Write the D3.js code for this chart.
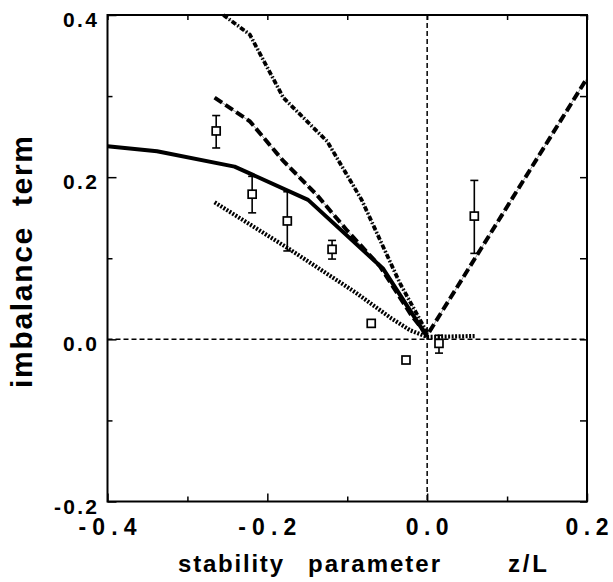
<!DOCTYPE html>
<html lang="en">
<head>
<meta charset="utf-8">
<title>imbalance term</title>
<script src="https://d3js.org/d3.v7.min.js"></script>
<style>
  body { margin: 0; background: #fff; }
  svg { display: block; }
  text { font-family: "Liberation Sans", Arial, Helvetica, sans-serif; font-weight: bold; fill: #000; }
</style>
</head>
<body>
<div id="chart"></div>
<script>
// model curves (z/L, imbalance)
var solidLine = [[-0.4, 0.238], [-0.338, 0.232], [-0.241, 0.213], [-0.149, 0.172], [-0.055, 0.087], [0, 0.003]];
var dashedLine = [[-0.266, 0.298], [-0.222, 0.269], [-0.18, 0.22], [-0.138, 0.178], [-0.1, 0.134], [-0.059, 0.09], [-0.02, 0.03], [0, 0.005], [0.2, 0.322]];
var dashDotLine = [[-0.255, 0.4], [-0.222, 0.376], [-0.18, 0.298], [-0.125, 0.244], [-0.082, 0.172], [-0.034, 0.069], [0, 0.008]];
var dottedLine = [[-0.266, 0.169], [-0.172, 0.111], [-0.09, 0.058], [-0.045, 0.026], [-0.021, 0.011], [0, 0.003], [0.06, 0.004]];

// measured points: x, y, lower, upper
var obsX = [-0.264, -0.219, -0.175, -0.119, -0.070, -0.0265, 0.0148, 0.059];
var obsY = [0.257, 0.179, 0.146, 0.111, 0.0197, -0.0255, -0.005, 0.152];
var obsLo = [0.236, 0.156, 0.109, 0.099, 0.0167, -0.0255, -0.017, 0.106];
var obsHi = [0.276, 0.201, 0.182, 0.122, 0.0227, -0.0255, 0.005, 0.196];

var xMajor = [-0.4, -0.2, 0, 0.2];
var xMinor = [-0.3, -0.1, 0.1];
var xTickLabels = ["-0.4", "-0.2", "0.0", "0.2"];
var yMajor = [0.4, 0.2, 0, -0.2];
var yMinor = [0.3, 0.1, -0.1];
var yTickLabels = ["0.4", "0.2", "0.0", "-0.2"];

var w = 613, h = 582;
var padL = 107.5, padR = 587, padT = 15, padB = 501.5;

var x = d3.scaleLinear().domain([-0.4, 0.2]).range([padL, padR]);
var y = d3.scaleLinear().domain([-0.2, 0.4]).range([padB, padT]);

var svg = d3.select("#chart").append("svg")
  .attr("width", w)
  .attr("height", h);

// inward ticks
function ticks(axis, tr) {
  var g = svg.append("g").attr("transform", tr).call(axis);
  g.select(".domain").remove();
  g.selectAll(".tick line").attr("stroke", "#000").attr("stroke-width", 1.5);
}
ticks(d3.axisBottom(x).tickValues(xMajor).tickSize(-8).tickFormat(""), "translate(0," + padB + ")");
ticks(d3.axisBottom(x).tickValues(xMinor).tickSize(-5).tickFormat(""), "translate(0," + padB + ")");
ticks(d3.axisTop(x).tickValues(xMajor.concat(xMinor)).tickSize(-5).tickFormat(""), "translate(0," + padT + ")");
ticks(d3.axisLeft(y).tickValues(yMajor).tickSize(-9).tickFormat(""), "translate(" + padL + ",0)");
ticks(d3.axisLeft(y).tickValues(yMinor).tickSize(-5).tickFormat(""), "translate(" + padL + ",0)");
ticks(d3.axisRight(y).tickValues(yMajor.concat(yMinor)).tickSize(-7).tickFormat(""), "translate(" + padR + ",0)");

// zero reference lines
svg.append("line")
  .attr("x1", x(-0.4)).attr("x2", x(0.2)).attr("y1", y(0)).attr("y2", y(0))
  .attr("stroke", "#000").attr("stroke-width", 1.5).attr("stroke-dasharray", "5,3");
svg.append("line")
  .attr("x1", x(0)).attr("x2", x(0)).attr("y1", y(0.4)).attr("y2", y(-0.2))
  .attr("stroke", "#000").attr("stroke-width", 1.5).attr("stroke-dasharray", "5,3");

var line = d3.line().x(function(d) { return x(d[0]); }).y(function(d) { return y(d[1]); });

// thin hairlines under the broken curves
[dashedLine, dashDotLine].forEach(function(d) {
  svg.append("path").attr("d", line(d)).attr("fill", "none")
    .attr("stroke", "#777").attr("stroke-width", 0.7);
});

svg.append("path").attr("d", line(dottedLine)).attr("fill", "none")
  .attr("stroke", "#000").attr("stroke-width", 4.2).attr("stroke-dasharray", "2,1.5");
svg.append("path").attr("d", line(dashDotLine)).attr("fill", "none")
  .attr("stroke", "#000").attr("stroke-width", 3.8).attr("stroke-dasharray", "5,2,1.5,2");
svg.append("path").attr("d", line(dashedLine)).attr("fill", "none")
  .attr("stroke", "#000").attr("stroke-width", 4).attr("stroke-dasharray", "9,4");
svg.append("path").attr("d", line(solidLine)).attr("fill", "none")
  .attr("stroke", "#000").attr("stroke-width", 4).attr("stroke-linejoin", "round");

// error bars + squares
var pts = d3.range(obsX.length);
var withErr = pts.filter(function(i) { return obsHi[i] > obsLo[i]; });
var eb = svg.append("g").attr("stroke", "#000").attr("stroke-width", 1.6);
eb.selectAll(".stem").data(withErr).enter().append("line")
  .attr("x1", function(i) { return x(obsX[i]); }).attr("x2", function(i) { return x(obsX[i]); })
  .attr("y1", function(i) { return y(obsLo[i]); }).attr("y2", function(i) { return y(obsHi[i]); });
eb.selectAll(".capLo").data(withErr).enter().append("line")
  .attr("x1", function(i) { return x(obsX[i]) - 4; }).attr("x2", function(i) { return x(obsX[i]) + 4; })
  .attr("y1", function(i) { return y(obsLo[i]); }).attr("y2", function(i) { return y(obsLo[i]); });
eb.selectAll(".capHi").data(withErr).enter().append("line")
  .attr("x1", function(i) { return x(obsX[i]) - 4; }).attr("x2", function(i) { return x(obsX[i]) + 4; })
  .attr("y1", function(i) { return y(obsHi[i]); }).attr("y2", function(i) { return y(obsHi[i]); });

svg.selectAll(".pt").data(pts).enter().append("rect")
  .attr("x", function(i) { return x(obsX[i]) - 4; })
  .attr("y", function(i) { return y(obsY[i]) - 4; })
  .attr("width", 8).attr("height", 8)
  .attr("fill", "#fff").attr("stroke", "#000").attr("stroke-width", 1.7);

// frame
svg.append("rect")
  .attr("x", padL).attr("y", padT).attr("width", padR - padL).attr("height", padB - padT)
  .attr("fill", "none").attr("stroke", "#000").attr("stroke-width", 2);

// tick labels
svg.selectAll(".xl").data(xMajor).enter().append("text")
  .attr("x", function(d) { return x(d); })
  .attr("y", 535)
  .attr("text-anchor", "middle")
  .attr("font-size", 23)
  .attr("textLength", function(d, i) { return xTickLabels[i].length > 3 ? 58 : 43; })
  .attr("lengthAdjust", "spacing")
  .text(function(d, i) { return xTickLabels[i]; });

svg.selectAll(".yl").data(yMajor).enter().append("text")
  .attr("x", 97)
  .attr("y", function(d) { return y(d) + 12; })
  .attr("text-anchor", "end")
  .attr("font-size", 21)
  .attr("textLength", function(d, i) { return yTickLabels[i].length > 3 ? 43 : 34; })
  .attr("lengthAdjust", "spacing")
  .text(function(d, i) { return yTickLabels[i]; });

// axis titles
svg.append("text").attr("x", 178).attr("y", 572).attr("font-size", 24)
  .attr("textLength", 105).attr("lengthAdjust", "spacing").text("stability");
svg.append("text").attr("x", 308).attr("y", 572).attr("font-size", 24)
  .attr("textLength", 132).attr("lengthAdjust", "spacing").text("parameter");
svg.append("text").attr("x", 508).attr("y", 572).attr("font-size", 24)
  .attr("textLength", 39).attr("lengthAdjust", "spacing").text("z/L");

svg.append("text")
  .attr("transform", "translate(32,262) rotate(-90)")
  .attr("text-anchor", "middle")
  .attr("font-size", 30)
  .attr("textLength", 252)
  .attr("lengthAdjust", "spacing")
  .style("white-space", "pre")
  .text("imbalance  term");
</script>
</body>
</html>
